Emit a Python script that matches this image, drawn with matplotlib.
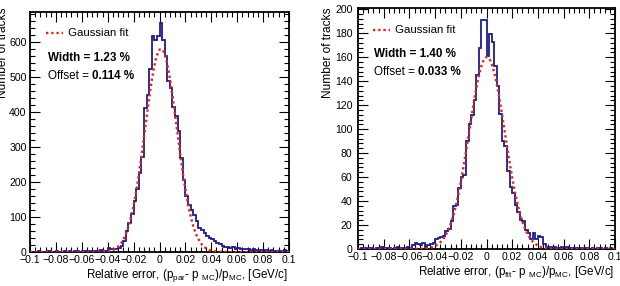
import numpy as np
import matplotlib
matplotlib.use("Agg")
import matplotlib.pyplot as plt
from matplotlib.ticker import MultipleLocator, FixedLocator

# ── Style ─────────────────────────────────────────────────────────────────────
FONT = "Liberation Sans"
plt.rcParams.update({
    "font.family": [FONT, "DejaVu Sans"],
    "mathtext.fontset": "custom",
    "mathtext.rm": FONT,
    "mathtext.it": FONT + ":italic",
    "mathtext.bf": FONT + ":bold",
    "axes.unicode_minus": True,
})
HIST_COLOR = "#1c1c8f"
FIT_COLOR = "#e3261f"
FIT_STYLE = (0, (1, 1.2))

W, H = 620, 286

# ── Data ──────────────────────────────────────────────────────────────────────
X_RANGE = (-0.1, 0.1)
N_BINS = 100
X_TICKS = [-0.1, -0.08, -0.06, -0.04, -0.02, 0, 0.02, 0.04, 0.06, 0.08, 0.1]
X_TICKLABELS = ["\u22120.1", "\u22120.08", "\u22120.06", "\u22120.04", "\u22120.02",
                "0", "0.02", "0.04", "0.06", "0.08", "0.1"]

# left panel: (p_par - p_MC)/p_MC
LEFT_COUNTS = [
    1, 0, 1, 2, 1, 1, 0, 2, 1, 1,
    2, 1, 1, 2, 1, 3, 1, 2, 2, 1,
    2, 3, 2, 3, 2, 4, 3, 5, 4, 3,
    12, 10, 8, 9, 12, 17, 31, 60, 84, 108,
    145, 180, 226, 271, 411, 449, 524, 617, 606, 617,
    654, 606, 560, 490, 469, 415, 390, 345, 268, 206,
    160, 135, 120, 105, 90, 68, 63, 55, 46, 41,
    36, 31, 26, 22, 18, 15, 14, 12, 13, 10,
    11, 9, 10, 8, 9, 7, 8, 6, 7, 5,
    6, 5, 4, 5, 4, 3, 4, 3, 5, 3,
]
LEFT_FIT = dict(amp=580, mean=0.00114, sigma=0.0123)
LEFT_YMAX = 686
LEFT_YTICKS = [0, 100, 200, 300, 400, 500, 600]

# right panel: (p_fit - p_MC)/p_MC
RIGHT_COUNTS = [
    0, 1, 1, 0, 1, 1, 0, 1, 0, 2,
    1, 1, 1, 0, 1, 2, 1, 1, 1, 2,
    1, 3, 5, 4, 3, 5, 2, 3, 4, 5,
    8, 9, 10, 11, 15, 17, 23, 36, 37, 51,
    60, 62, 90, 104, 112, 124, 145, 168, 191, 191,
    161, 179, 173, 153, 136, 113, 90, 86, 65, 52,
    47, 37, 31, 24, 23, 16, 13, 8, 13, 8,
    11, 10, 4, 2, 2, 1, 2, 1, 1, 2,
    1, 2, 1, 1, 0, 1, 1, 0, 1, 1,
    0, 1, 0, 1, 1, 0, 1, 0, 1, 0,
]
RIGHT_FIT = dict(amp=160, mean=0.00033, sigma=0.0140)
RIGHT_YMAX = 201
RIGHT_YTICKS = [0, 20, 40, 60, 80, 100, 120, 140, 160, 180, 200]

PANELS = [
    dict(counts=LEFT_COUNTS, fit=LEFT_FIT, ymax=LEFT_YMAX, yticks=LEFT_YTICKS,
         yminor=20, box=(30, 12, 289, 252),
         width_txt="Width = 1.23 %", offset_val="0.114 %",
         xlabel=r"Relative error, (p$_{\mathrm{par}}$- p $_{\mathrm{MC}}$)/p$_{\mathrm{MC}}$, [GeV/c]",
         xlabel_pos=(288, 275), ylabel_pos=(3, 7),
         leg=(46, 33), width_pos=(48, 58), offset_pos=(48, 76), ypad=2.5),
    dict(counts=RIGHT_COUNTS, fit=RIGHT_FIT, ymax=RIGHT_YMAX, yticks=RIGHT_YTICKS,
         yminor=4, box=(358, 8, 615, 249),
         width_txt="Width = 1.40 %", offset_val="0.033 %",
         xlabel=r"Relative error, (p$_{\mathrm{fit}}$- p $_{\mathrm{MC}}$)/p$_{\mathrm{MC}}$, [GeV/c]",
         xlabel_pos=(614, 272), ylabel_pos=(328, 7),
         leg=(373, 30), width_pos=(374, 54), offset_pos=(374, 72), ypad=4),
]


def fx(px):
    return px / W


def fy(py):
    return 1 - py / H


fig = plt.figure(figsize=(W / 100, H / 100), dpi=100)
fig.set_facecolor("white")

edges = np.linspace(X_RANGE[0], X_RANGE[1], N_BINS + 1)
xs = np.linspace(X_RANGE[0], X_RANGE[1], 600)

for p in PANELS:
    x0, y0, x1, y1 = p["box"]
    ax = fig.add_axes([fx(x0), fy(y1), (x1 - x0) / W, (y1 - y0) / H])

    # histogram + gaussian fit
    ax.stairs(p["counts"], edges, color=HIST_COLOR, linewidth=1.3, zorder=3)
    f = p["fit"]
    gauss = f["amp"] * np.exp(-0.5 * ((xs - f["mean"]) / f["sigma"]) ** 2)
    ax.plot(xs, gauss, color=FIT_COLOR, linewidth=1.7, linestyle=FIT_STYLE, zorder=4)

    # axes, ROOT-like ticks on all four sides
    ax.set_xlim(*X_RANGE)
    ax.set_ylim(0, p["ymax"])
    ax.xaxis.set_major_locator(FixedLocator(X_TICKS))
    ax.set_xticklabels(X_TICKLABELS)
    ax.xaxis.set_minor_locator(MultipleLocator(0.004))
    ax.set_yticks(p["yticks"])
    ax.yaxis.set_minor_locator(MultipleLocator(p["yminor"]))

    ax.tick_params(which="both", direction="in", top=True, right=True,
                   labelsize=7.6, colors="black", width=0.8)
    ax.tick_params(which="major", length=7)
    ax.tick_params(which="minor", length=3.5)
    ax.tick_params(axis="x", pad=2.5)
    ax.tick_params(axis="y", pad=p["ypad"])
    for s in ax.spines.values():
        s.set_linewidth(1.3)

    # legend line + label
    lx, ly = p["leg"]
    fig.add_artist(plt.Line2D([fx(lx), fx(lx + 17)], [fy(ly), fy(ly)],
                              color=FIT_COLOR, linewidth=1.7, linestyle=FIT_STYLE,
                              transform=fig.transFigure))
    fig.text(fx(lx + 22), fy(ly), "Gaussian fit", fontsize=8.2,
             ha="left", va="center")

    # fit results
    wx, wy = p["width_pos"]
    fig.text(fx(wx), fy(wy), p["width_txt"], fontsize=8.4, fontweight="bold",
             ha="left", va="center")
    ox, oy = p["offset_pos"]
    t1 = fig.text(fx(ox), fy(oy), "Offset = ", fontsize=8.4,
                  ha="left", va="center")
    ax.annotate(p["offset_val"], xy=(1, 0.5), xycoords=t1, fontsize=8.4,
                fontweight="bold", ha="left", va="center")

    # axis titles
    xlx, xly = p["xlabel_pos"]
    fig.text(fx(xlx), fy(xly), p["xlabel"], fontsize=8.4, ha="right", va="center")
    ylx, yly = p["ylabel_pos"]
    fig.text(fx(ylx), fy(yly), "Number of tracks", fontsize=8.6, rotation=90,
             ha="center", va="top")

fig.savefig("out.png", dpi=100, facecolor="white")
